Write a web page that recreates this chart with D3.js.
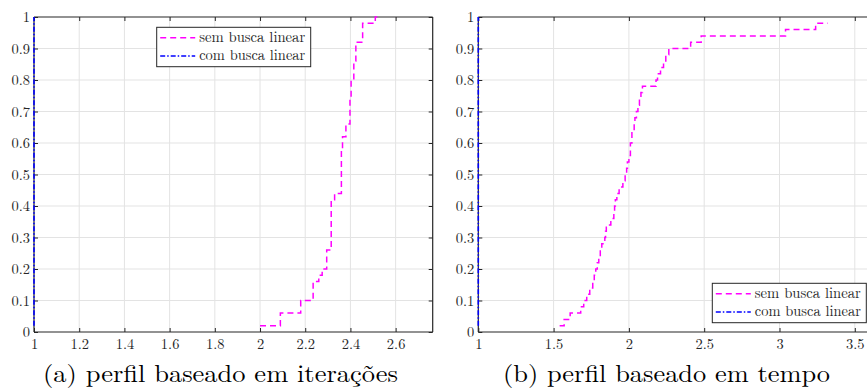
<!DOCTYPE html>
<html>
<head>
<meta charset="utf-8">
<script src="https://cdn.jsdelivr.net/npm/d3@7"></script>
<style>
  html, body { margin: 0; padding: 0; background: #fff; }
  svg { display: block; }
</style>
</head>
<body>
<div id="chart"></div>
<script>
// ---------------- data ----------------
const seriesNames = ["sem busca linear", "com busca linear"];
const captions = ["(a) perfil baseado em iterações", "(b) perfil baseado em tempo"];

// (a) iterations profile, "sem busca linear" (stairs: tau, rho)
const iterTau = [2.00, 2.09, 2.18, 2.235, 2.26, 2.275, 2.295, 2.315, 2.33, 2.36, 2.365, 2.38, 2.398, 2.403, 2.415, 2.424, 2.454, 2.51, 2.52];
const iterRho = [0.02, 0.06, 0.10, 0.16, 0.18, 0.20, 0.26, 0.42, 0.44, 0.58, 0.62, 0.66, 0.74, 0.80, 0.86, 0.92, 0.98, 1.00, 1.00];

// (b) time profile, "sem busca linear"
const timeTau = [1.54, 1.57, 1.61, 1.68, 1.70, 1.72, 1.74, 1.76, 1.77, 1.78, 1.79, 1.80, 1.81, 1.82, 1.84, 1.845, 1.85, 1.88, 1.90, 1.905, 1.91, 1.92, 1.935, 1.96, 1.975, 1.985, 1.99, 2.00, 2.01, 2.02, 2.035, 2.04, 2.05, 2.06, 2.07, 2.08, 2.09, 2.18, 2.19, 2.21, 2.23, 2.245, 2.265, 2.41, 2.48, 3.04, 3.24, 3.32];
const timeRho = [0.02, 0.04, 0.06, 0.08, 0.10, 0.12, 0.14, 0.16, 0.18, 0.20, 0.22, 0.24, 0.26, 0.28, 0.30, 0.32, 0.34, 0.36, 0.38, 0.40, 0.42, 0.44, 0.46, 0.48, 0.50, 0.52, 0.54, 0.56, 0.60, 0.64, 0.66, 0.68, 0.70, 0.72, 0.74, 0.76, 0.78, 0.80, 0.82, 0.84, 0.86, 0.88, 0.90, 0.92, 0.94, 0.96, 0.98, 0.98];

// "com busca linear" (both profiles): everything solved at tau = 1
const comTau = [1, 1];
const comRho = [0.02, 1.00];

// ticks
const iterXTicks = [1, 1.2, 1.4, 1.6, 1.8, 2, 2.2, 2.4, 2.6];
const timeXTicks = [1, 1.5, 2, 2.5, 3, 3.5];
const yTicks = [0, 0.1, 0.2, 0.3, 0.4, 0.5, 0.6, 0.7, 0.8, 0.9, 1];

// ---------------- layout ----------------
const W = 867, H = 390;
const FONT = '"Latin Modern Roman", "Liberation Serif", serif';
const colors = ["#ff00ff", "#0000ff"];
const dashes = ["6,4", "5,2,1.5,2"];

const svg = d3.select("#chart").append("svg")
  .attr("width", W).attr("height", H);

const panels = [
  { left: 34, right: 432.7, top: 17, bottom: 332, xDomain: [1, 2.764], xTicks: iterXTicks,
    sem: [iterTau, iterRho], com: [comTau, comRho],
    legend: { x: 156.7, y: 27.3 }, caption: { x: 220.5, y: 381.5, len: 355, text: captions[0] }, showRight: true },
  { left: 478.3, right: 875, top: 17, bottom: 332, xDomain: [1, 1 + (875 - 478.3) / 150.6], xTicks: timeXTicks,
    sem: [timeTau, timeRho], com: [comTau, comRho],
    legend: { x: 712.3, y: 283.3 }, caption: { x: 666.5, y: 381.5, len: 327, text: captions[1] }, showRight: false }
];

const fmt = d => String(+d.toFixed(2));

panels.forEach((p, i) => {
  const x = d3.scaleLinear().domain(p.xDomain).range([p.left, p.right]);
  const y = d3.scaleLinear().domain([0, 1]).range([p.bottom, p.top]);
  const g = svg.append("g");

  const clipId = "clip" + i;
  svg.append("clipPath").attr("id", clipId).append("rect")
    .attr("x", p.left - 2).attr("y", p.top - 2)
    .attr("width", p.right - p.left + 4).attr("height", p.bottom - p.top + 4);

  // grid
  g.append("g").selectAll("line").data(p.xTicks.filter(t => t > p.xDomain[0])).join("line")
    .attr("x1", d => x(d)).attr("x2", d => x(d)).attr("y1", p.top).attr("y2", p.bottom)
    .attr("stroke", "#e3e3e3").attr("stroke-width", 1);
  g.append("g").selectAll("line").data(yTicks.filter(t => t > 0 && t < 1)).join("line")
    .attr("x1", p.left).attr("x2", p.right).attr("y1", d => y(d)).attr("y2", d => y(d))
    .attr("stroke", "#e3e3e3").attr("stroke-width", 1);

  // axes
  const axB = d3.axisBottom(x).tickValues(p.xTicks).tickSizeInner(-4).tickSizeOuter(0).tickPadding(7).tickFormat(fmt);
  const axT = d3.axisTop(x).tickValues(p.xTicks).tickSizeInner(-4).tickSizeOuter(0).tickFormat("");
  const axL = d3.axisLeft(y).tickValues(yTicks).tickSizeInner(-4).tickSizeOuter(0).tickPadding(4).tickFormat(fmt);
  const axR = d3.axisRight(y).tickValues(yTicks).tickSizeInner(-4).tickSizeOuter(0).tickFormat("");

  const styleAxis = sel => {
    sel.attr("font-family", null).attr("font-size", null);
    sel.select(".domain").remove();
    sel.selectAll(".tick line").attr("stroke", "#262626");
    sel.selectAll(".tick text").style("font-family", FONT).style("font-size", "14.5px").attr("fill", "#262626");
  };
  g.append("g").attr("transform", `translate(0,${p.bottom})`).call(axB).call(styleAxis);
  g.append("g").attr("transform", `translate(0,${p.top})`).call(axT).call(styleAxis);
  g.append("g").attr("transform", `translate(${p.left},0)`).call(axL).call(styleAxis);
  if (p.showRight) g.append("g").attr("transform", `translate(${p.right},0)`).call(axR).call(styleAxis);

  // box
  g.append("path")
    .attr("d", `M${p.left},${p.top}H${p.right}M${p.left},${p.bottom}H${p.right}M${p.left},${p.top}V${p.bottom}` + (p.showRight ? `M${p.right},${p.top}V${p.bottom}` : ""))
    .attr("fill", "none").attr("stroke", "#262626").attr("stroke-width", 1.2);

  // series
  const line = d3.line().x(d => x(d[0])).y(d => y(d[1])).curve(d3.curveStepAfter);
  const semPts = d3.zip(p.sem[0], p.sem[1]);
  const comPts = d3.zip(p.com[0], p.com[1]);
  g.append("path").attr("clip-path", `url(#${clipId})`)
    .datum(semPts).attr("d", line)
    .attr("fill", "none").attr("stroke", colors[0]).attr("stroke-width", 1.5).attr("stroke-dasharray", dashes[0]);
  g.append("path")
    .datum(comPts).attr("d", line)
    .attr("fill", "none").attr("stroke", colors[1]).attr("stroke-width", 1.6).attr("stroke-dasharray", dashes[1]);

  // legend
  const lg = g.append("g").attr("transform", `translate(${p.legend.x},${p.legend.y})`);
  lg.append("rect").attr("x", 0).attr("y", 0).attr("width", 154).attr("height", 39.4)
    .attr("fill", "#fff").attr("stroke", "#262626").attr("stroke-width", 1);
  seriesNames.forEach((name, k) => {
    const cy = 10.5 + k * 18.2;
    lg.append("line").attr("x1", 3.5).attr("x2", 38.5).attr("y1", cy).attr("y2", cy)
      .attr("stroke", colors[k]).attr("stroke-width", 1.5).attr("stroke-dasharray", dashes[k]);
    lg.append("text").attr("x", 42.5).attr("y", cy + 4.5)
      .style("font-family", FONT).style("font-size", "14.5px").attr("fill", "#262626")
      .attr("textLength", 106).attr("lengthAdjust", "spacingAndGlyphs")
      .text(name);
  });

  // caption
  svg.append("text").attr("x", p.caption.x).attr("y", p.caption.y)
    .attr("text-anchor", "middle")
    .style("font-family", FONT).style("font-size", "24px")
    .attr("textLength", p.caption.len).attr("lengthAdjust", "spacingAndGlyphs")
    .attr("fill", "#000")
    .text(p.caption.text);
});
</script>
</body>
</html>
